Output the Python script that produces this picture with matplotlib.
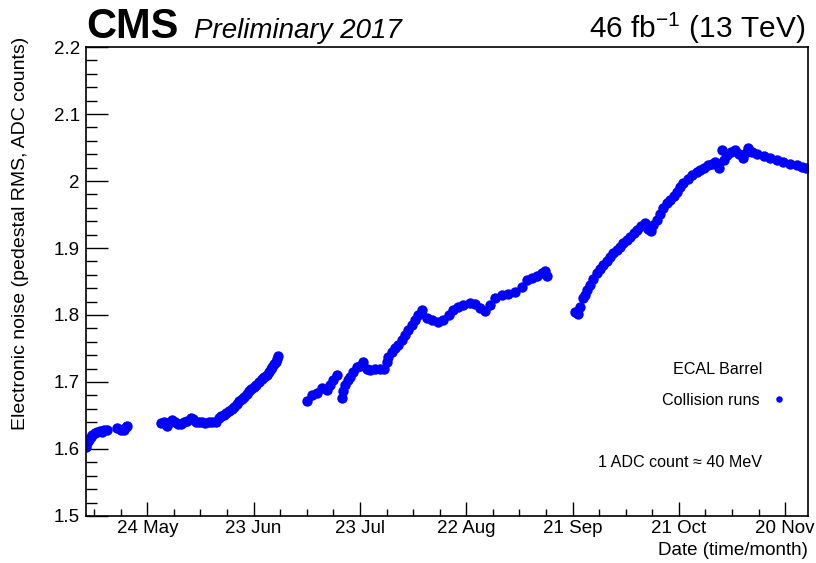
import numpy as np
import pandas as pd
import matplotlib
matplotlib.use("Agg")
import matplotlib.pyplot as plt
import matplotlib.dates as mdates
from matplotlib.ticker import MultipleLocator, FuncFormatter, FixedLocator

plt.rcParams["font.family"] = ["Liberation Sans", "DejaVu Sans"]

# day of year 2017 for each collision run, and its pedestal RMS
run_day = [
    # May
    126.7, 127.1, 127.55, 128.0, 128.5, 129.2, 129.9, 130.6, 131.3, 131.9, 132.5,
    135.5, 136.5, 137.3, 137.9, 138.3,
    148.0, 148.7, 149.6, 150.4, 151.1, 151.8, 152.7, 153.4, 154.4, 155.2,
    156.2, 156.9, 157.7, 158.6, 159.5, 160.4, 161.4, 162.3, 163.3,
    # June
    164.2, 164.9, 165.6, 166.3, 167.1, 167.8, 168.5, 169.2, 169.9, 170.6,
    171.3, 172.0, 172.7, 173.4, 174.1, 174.8, 175.6, 176.3, 177.0, 177.7,
    178.4, 178.9, 179.3, 179.8, 180.2, 180.6, 180.9,
    # July - August
    189.0, 190.4, 191.8, 193.2, 194.6, 195.6, 196.5, 197.5,
    198.9, 199.3, 199.8, 200.6, 201.2, 202.1, 203.1, 204.0, 205.0, 205.9,
    206.9, 208.3, 209.7, 210.9, 211.6, 212.0, 213.0, 213.9, 214.8, 215.8,
    216.7, 217.7, 218.6, 219.6, 220.5, 221.4, 222.9, 224.3, 226.1, 227.5,
    229.0, 230.4, 231.8, 233.2, 235.1, 236.5, 237.9, 239.3, 240.7, 242.1,
    244.0, 245.9, 247.8, 249.7, 251.1, 252.5, 253.9, 255.3, 256.2, 256.7,
    # September - November
    264.7, 265.4, 266.1, 267.0, 267.5, 268.2, 268.9, 269.8, 270.8, 271.7,
    272.7, 273.6, 274.6, 275.5, 276.5, 277.4, 278.3, 279.3, 280.2, 281.2,
    282.1, 283.3, 284.3, 285.2, 286.2, 286.8, 287.8, 288.7, 289.6, 290.6,
    291.5, 292.5, 293.4, 294.4, 295.3, 296.6, 297.7, 299.1, 300.0, 301.1,
    302.3, 303.3, 304.2, 305.2, 306.1, 306.6, 307.5, 308.6, 309.9, 311.0,
    312.2, 313.2, 313.6, 314.6, 316.0, 317.9, 319.8, 321.6, 323.5, 325.4,
    327.3, 328.7, 329.9,
]
noise = [
    1.603, 1.609, 1.613, 1.618, 1.621, 1.624, 1.626, 1.627, 1.626, 1.628, 1.628,
    1.632, 1.628, 1.629, 1.633, 1.634,
    1.639, 1.640, 1.635, 1.641, 1.644, 1.640, 1.638, 1.637, 1.640, 1.642,
    1.647, 1.645, 1.641, 1.640, 1.640, 1.639, 1.640, 1.640, 1.640,
    1.647, 1.649, 1.651, 1.654, 1.657, 1.660, 1.663, 1.667, 1.671, 1.674,
    1.678, 1.682, 1.686, 1.690, 1.693, 1.696, 1.700, 1.704, 1.707, 1.711,
    1.715, 1.719, 1.723, 1.727, 1.730, 1.735, 1.739,
    1.672, 1.681, 1.684, 1.691, 1.688, 1.696, 1.703, 1.710,
    1.676, 1.686, 1.696, 1.703, 1.708, 1.715, 1.723, 1.724, 1.730, 1.719,
    1.718, 1.720, 1.720, 1.720, 1.730, 1.738, 1.745, 1.750, 1.755, 1.763,
    1.770, 1.778, 1.785, 1.793, 1.800, 1.807, 1.795, 1.793, 1.790, 1.793,
    1.800, 1.807, 1.812, 1.815, 1.818, 1.817, 1.810, 1.806, 1.815, 1.825,
    1.830, 1.832, 1.835, 1.842, 1.852, 1.855, 1.858, 1.862, 1.865, 1.858,
    1.805, 1.801, 1.812, 1.825, 1.830, 1.837, 1.845, 1.853, 1.862, 1.868,
    1.875, 1.881, 1.887, 1.892, 1.897, 1.902, 1.907, 1.912, 1.917, 1.922,
    1.927, 1.933, 1.938, 1.929, 1.926, 1.934, 1.942, 1.951, 1.959, 1.967,
    1.972, 1.978, 1.984, 1.991, 1.997, 2.003, 2.009, 2.014, 2.016, 2.020,
    2.024, 2.026, 2.029, 2.019, 2.046, 2.031, 2.039, 2.043, 2.046, 2.041,
    2.034, 2.044, 2.049, 2.044, 2.041, 2.038, 2.034, 2.031, 2.029, 2.025,
    2.024, 2.021, 2.019,
]

tick_dates = ["2017-05-24", "2017-06-23", "2017-07-23", "2017-08-22",
              "2017-09-21", "2017-10-21", "2017-11-20"]
tick_labels = ["24 May", "23 Jun", "23 Jul", "22 Aug", "21 Sep", "21 Oct", "20 Nov"]

start = pd.Timestamp("2017-01-01")
dates = start + pd.to_timedelta(np.array(run_day) - 1, unit="D")

fig = plt.figure(figsize=(8.16, 5.63), dpi=100)
ax = fig.add_axes([0.1054, 0.0835, 0.8842, 0.833])

ax.plot(dates, noise, "o", color="#0000ff", markersize=7.5, markeredgewidth=0,
        label="Collision runs")

ax.set_xlim(start + pd.Timedelta(days=125.7), start + pd.Timedelta(days=329.3))
ax.set_ylim(1.5, 2.2)

# axis ticks, ROOT style: inside, left/bottom only
major_x = mdates.date2num(pd.to_datetime(tick_dates))
ax.xaxis.set_major_locator(FixedLocator(major_x))
ax.set_xticklabels(tick_labels)
minor_x = mdates.date2num(pd.date_range("2017-05-09", "2017-11-27", freq="180h"))
ax.xaxis.set_minor_locator(FixedLocator(minor_x))
ax.yaxis.set_major_locator(MultipleLocator(0.1))
ax.yaxis.set_minor_locator(MultipleLocator(0.02))
ax.yaxis.set_major_formatter(FuncFormatter(lambda v, p: f"{v:g}"))

ax.tick_params(axis="both", which="both", direction="in", top=False, right=False,
               labelsize=13.5, width=1)
ax.tick_params(axis="y", which="major", length=16, pad=4.5)
ax.tick_params(axis="y", which="minor", length=8)
ax.tick_params(axis="x", which="major", length=10, pad=3)
ax.tick_params(axis="x", which="minor", length=5)
for s in ax.spines.values():
    s.set_linewidth(1.2)

ax.set_ylabel("Electronic noise (pedestal RMS, ADC counts)", fontsize=14)
ax.yaxis.set_label_coords(-0.079, 1.021)
ax.yaxis.label.set_horizontalalignment("right")
ax.set_xlabel("Date (time/month)", fontsize=13.5)
ax.xaxis.set_label_coords(1.0, -0.055)
ax.xaxis.label.set_horizontalalignment("right")

# header
fig.text(0.106, 0.933, "CMS", fontsize=30, fontweight="bold", ha="left", va="baseline")
fig.text(0.238, 0.933, "Preliminary 2017", fontsize=20, fontstyle="italic",
         ha="left", va="baseline")
fig.text(0.987, 0.933, r"46 fb$^{\mathregular{-1}}$ (13 TeV)", fontsize=21.5,
         ha="right", va="baseline")

# annotations
ax.text(0.937, 0.312, "ECAL Barrel", fontsize=11.6, ha="right", va="center",
        transform=ax.transAxes)
ax.text(0.937, 0.113, "1 ADC count \u2248 40 MeV", fontsize=11.6, ha="right",
        va="center", transform=ax.transAxes)
ax.legend(loc="center right", bbox_to_anchor=(0.9716, 0.247), frameon=False,
          markerfirst=False, handlelength=1, handletextpad=0.7, borderpad=0,
          borderaxespad=0, fontsize=11.6, numpoints=1, markerscale=0.62)

fig.savefig("out.png", dpi=100)
